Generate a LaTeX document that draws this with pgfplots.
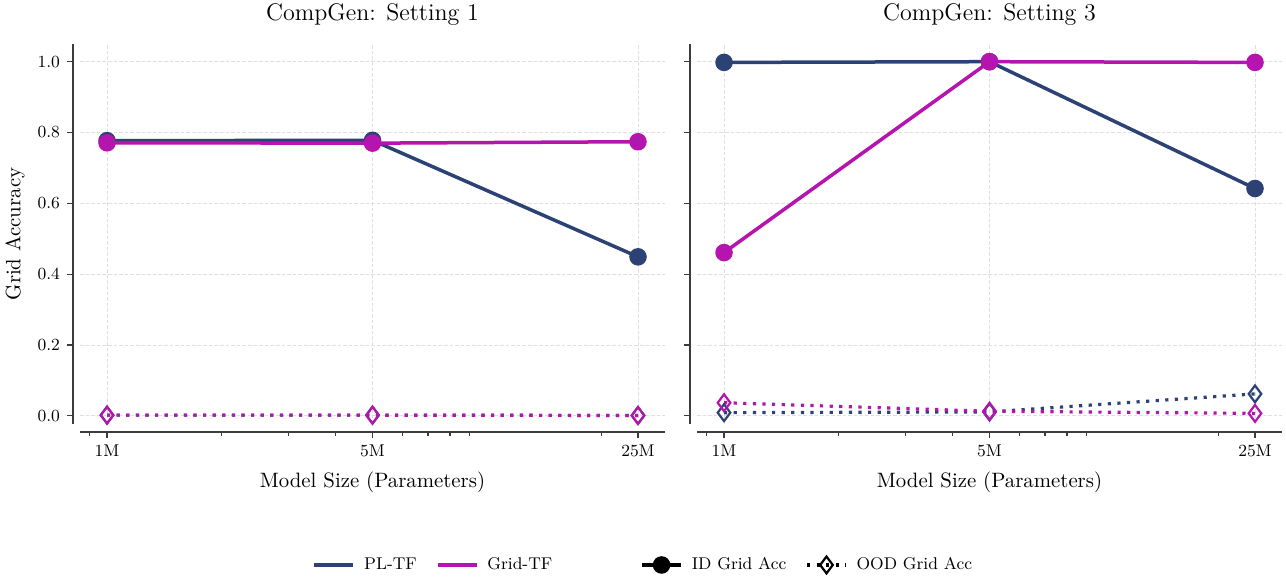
\documentclass[border=0pt]{standalone}
\usepackage{fontspec}
\usepackage{pgfplots}
\pgfplotsset{compat=1.18}
\definecolor{pl}{RGB}{45,66,116}
\definecolor{gt}{RGB}{181,21,174}
\definecolor{spine}{RGB}{60,60,60}
\begin{document}
\begin{tikzpicture}
\path[use as bounding box] (-40pt,-78.5pt) rectangle (603pt,212pt);
\begin{axis}[at={(0pt,0pt)}, anchor=south west,
  scale only axis, width=292.5pt, height=190pt,
  xmode=log, xmin=0.849e6, xmax=29.45e6,
  ymin=-0.023, ymax=1.05,
  axis x line=bottom, axis y line=left,
  axis line style={-, line width=0.75pt, spine},
  axis x line shift=4pt, axis y line shift=3.5pt,
  xtick={1e6,5e6,2.5e7}, xticklabels={1M,5M,25M},
  minor xtick={9e5,2e6,3e6,4e6,6e6,7e6,8e6,9e6,2e7},
  ytick={0,0.2,0.4,0.6,0.8,1.0},
  tick align=outside, major tick length=3pt, minor tick length=1.8pt,
  tick style={spine, line width=0.6pt},
  xmajorgrids, ymajorgrids,
  grid style={gray!25, line width=0.4pt, dash pattern=on 1.8pt off 1pt},
  tick label style={font=\fontsize{8.5}{10}\selectfont},
  yticklabel style={/pgf/number format/fixed, /pgf/number format/fixed zerofill, /pgf/number format/precision=1, /pgf/number format/assume math mode=true},
  every axis title shift=0pt,
  title style={font=\fontsize{12}{14}\selectfont, at={(axis description cs:0.5,1.0763)}, anchor=center},
  label style={font=\fontsize{10.4}{12}\selectfont},
  xlabel style={at={(axis description cs:0.5,-0.1526)}, anchor=center},
  xlabel={Model Size (Parameters)},
  clip=false,
  legend style={draw=none, fill=none, font=\fontsize{8.5}{10}\selectfont, /tikz/every even column/.append style={column sep=7.5pt}},
  legend columns=-1,
  legend image code/.code={\draw[mark repeat=2,mark phase=2,#1] plot coordinates {(0pt,0pt) (9.75pt,0pt) (19.5pt,0pt)};},
  title={CompGen: Setting 1},
  ylabel={Grid Accuracy},
  ylabel style={at={(axis description cs:-0.111,0.5)}, anchor=center},
  legend style={at={(axis description cs:0.606,-0.371)}, anchor=center}]
\addplot[pl, line width=1.75pt, mark=*, mark size=3.5pt, mark options={solid}, forget plot] coordinates {(1e6,0.777) (5e6,0.778) (2.5e7,0.449)};
\addplot[pl, line width=1.6pt, dash pattern=on 1.6pt off 3.2pt, mark=diamond, mark size=4.2pt, mark options={solid, fill=white, line width=1.1pt}, forget plot] coordinates {(1e6,0.002) (5e6,0.002) (2.5e7,0.001)};
\addplot[gt, line width=1.75pt, mark=*, mark size=3.5pt, mark options={solid}, forget plot] coordinates {(1e6,0.771) (5e6,0.770) (2.5e7,0.774)};
\addplot[gt, line width=1.6pt, dash pattern=on 1.6pt off 3.2pt, mark=diamond, mark size=4.2pt, mark options={solid, fill=white, line width=1.1pt}, forget plot] coordinates {(1e6,0.002) (5e6,0.002) (2.5e7,0.001)};
\addlegendimage{pl, line width=1.75pt}
\addlegendentry{\hspace{2.5pt}PL-TF}
\addlegendimage{gt, line width=1.75pt}
\addlegendentry{\hspace{2.5pt}Grid-TF}
\end{axis}
\begin{axis}[at={(308.5pt,0pt)}, anchor=south west,
  scale only axis, width=292.5pt, height=190pt,
  xmode=log, xmin=0.849e6, xmax=29.45e6,
  ymin=-0.023, ymax=1.05,
  axis x line=bottom, axis y line=left,
  axis line style={-, line width=0.75pt, spine},
  axis x line shift=4pt, axis y line shift=3.5pt,
  xtick={1e6,5e6,2.5e7}, xticklabels={1M,5M,25M},
  minor xtick={9e5,2e6,3e6,4e6,6e6,7e6,8e6,9e6,2e7},
  ytick={0,0.2,0.4,0.6,0.8,1.0}, yticklabels={},
  tick align=outside, major tick length=3pt, minor tick length=1.8pt,
  tick style={spine, line width=0.6pt},
  xmajorgrids, ymajorgrids,
  grid style={gray!25, line width=0.4pt, dash pattern=on 1.8pt off 1pt},
  tick label style={font=\fontsize{8.5}{10}\selectfont},
  every axis title shift=0pt,
  title style={font=\fontsize{12}{14}\selectfont, at={(axis description cs:0.5,1.0763)}, anchor=center},
  label style={font=\fontsize{10.4}{12}\selectfont},
  xlabel style={at={(axis description cs:0.5,-0.1526)}, anchor=center},
  xlabel={Model Size (Parameters)},
  clip=false,
  legend style={draw=none, fill=none, font=\fontsize{8.5}{10}\selectfont, /tikz/every even column/.append style={column sep=7.5pt}},
  legend columns=-1,
  legend image code/.code={\draw[mark repeat=2,mark phase=2,#1] plot coordinates {(0pt,0pt) (9.75pt,0pt) (19.5pt,0pt)};},
  title={CompGen: Setting 3},
  legend style={at={(axis description cs:0.19,-0.371)}, anchor=center}]
\addplot[pl, line width=1.75pt, mark=*, mark size=3.5pt, mark options={solid}, forget plot] coordinates {(1e6,0.998) (5e6,1.0) (2.5e7,0.642)};
\addplot[pl, line width=1.6pt, dash pattern=on 1.6pt off 3.2pt, mark=diamond, mark size=4.2pt, mark options={solid, fill=white, line width=1.1pt}, forget plot] coordinates {(1e6,0.009) (5e6,0.011) (2.5e7,0.062)};
\addplot[gt, line width=1.75pt, mark=*, mark size=3.5pt, mark options={solid}, forget plot] coordinates {(1e6,0.461) (5e6,1.0) (2.5e7,0.998)};
\addplot[gt, line width=1.6pt, dash pattern=on 1.6pt off 3.2pt, mark=diamond, mark size=4.2pt, mark options={solid, fill=white, line width=1.1pt}, forget plot] coordinates {(1e6,0.037) (5e6,0.013) (2.5e7,0.007)};
\addlegendimage{black, line width=1.75pt, mark=*, mark size=3.5pt}
\addlegendentry{\hspace{2.5pt}ID Grid Acc}
\addlegendimage{black, line width=1.6pt, dash pattern=on 1.6pt off 3.2pt, mark=diamond, mark size=4.2pt, mark options={solid, fill=white, line width=1.1pt}}
\addlegendentry{\hspace{2.5pt}OOD Grid Acc}
\end{axis}
\end{tikzpicture}
\end{document}
